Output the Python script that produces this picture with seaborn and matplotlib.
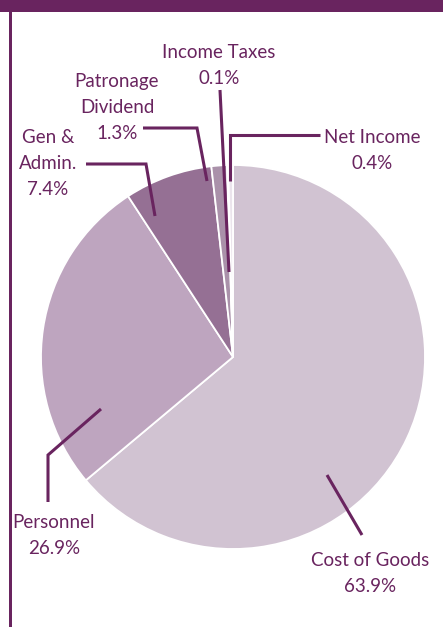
import matplotlib
matplotlib.use("Agg")
import matplotlib.pyplot as plt
from matplotlib import font_manager
from matplotlib.patches import Rectangle
import seaborn as sns

# ---- data ----
categories = ["Cost of Goods", "Personnel", "Gen &\nAdmin.", "Patronage\nDividend",
              "Income Taxes", "Net Income"]
values = [63.9, 26.9, 7.4, 1.3, 0.1, 0.4]
slice_colors = ["#d1c3d2", "#bea5bf", "#957094", "#aa91aa", "#c4b2c4", "#ebe4ec"]

# ---- style ----
sns.set_theme(style="white")
W, H = 443, 627
PURPLE = "#69245f"


def pick_font():
    try:
        p = font_manager.findfont(font_manager.FontProperties(family="Noto Sans", stretch="condensed"),
                                  fallback_to_default=False)
        if "ondensed" in p:
            return "Noto Sans", "condensed", 15
    except Exception:
        pass
    try:
        p = font_manager.findfont(font_manager.FontProperties(family="Liberation Sans Narrow"),
                                  fallback_to_default=False)
        if "Narrow" in p:
            return "Liberation Sans Narrow", "normal", 15
    except Exception:
        pass
    return "Lato", "normal", 13.5


FAM, STRETCH, FS = pick_font()
plt.rcParams["font.family"] = [FAM, "DejaVu Sans"]

fig = plt.figure(figsize=(W / 100, H / 100), dpi=100)
ax = fig.add_axes([0, 0, 1, 1])


def P(x, y):
    return x, H - y


cx, cy = P(233, 357)
ax.pie(values, colors=sns.color_palette(slice_colors), startangle=90, counterclock=False,
       center=(cx, cy), radius=192,
       wedgeprops=dict(edgecolor="white", linewidth=1.3))
ax.set_xlim(0, W)
ax.set_ylim(0, H)
ax.set_aspect("equal")
ax.axis("off")

# frame decorations
ax.add_patch(Rectangle(P(0, 12), W, 12, facecolor=PURPLE, edgecolor="none", zorder=5))
ax.add_patch(Rectangle(P(9.5, 627), 3, 615, facecolor=PURPLE, edgecolor="none", zorder=5))

# leader lines (pixel coords)
leaders = [
    [(327, 475), (362, 535)],                 # Cost of Goods
    [(101, 409), (48, 455), (48, 502)],       # Personnel
    [(155, 216), (146, 164), (86, 164)],      # Gen & Admin
    [(207, 181), (197, 128), (143, 128)],     # Patronage
    [(229, 272), (220, 90)],                  # Income Taxes
    [(230, 181), (230, 135), (320, 135)],     # Net Income
]
for pts in leaders:
    xs = [p[0] for p in pts]
    ys = [H - p[1] for p in pts]
    ax.plot(xs, ys, color=PURPLE, lw=2.2, solid_capstyle="butt", solid_joinstyle="miter", zorder=4)

# label anchors: centre x, first baseline y
label_pos = [(370, 566), (54, 528), (48, 143), (117, 87), (219, 58), (372, 143)]
step = 25.8
for name, v, (x, y) in zip(categories, values, label_pos):
    lines = name.split("\n") + [f"{v}%"]
    for i, ln in enumerate(lines):
        ax.text(x, H - (y + i * step), ln, ha="center", va="baseline", color=PURPLE,
                fontsize=FS, fontstretch=STRETCH, zorder=6)

fig.savefig("out.png", dpi=100, facecolor="white")
